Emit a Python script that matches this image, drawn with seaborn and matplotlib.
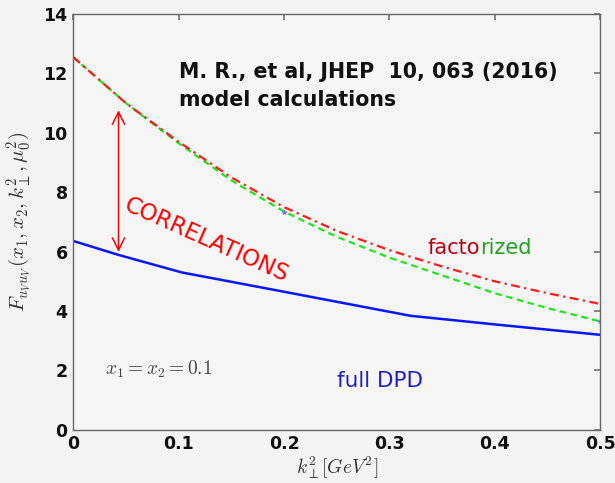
import matplotlib.pyplot as plt
import seaborn as sns
import pandas as pd

# Values
k2 = [0.0, 0.05, 0.1, 0.15, 0.2, 0.25, 0.3, 0.35, 0.4, 0.45, 0.5]
factorized = [12.55, 11.0, 9.7, 8.5, 7.5, 6.7, 6.05, 5.5, 5.0, 4.6, 4.24]
factorized_b = [12.55, 11.0, 9.65, 8.4, 7.35, 6.5, 5.8, 5.2, 4.6, 4.1, 3.65]
full_k2 = [0.0, 0.043, 0.103, 0.2, 0.32, 0.4, 0.5]
full_dpd = [6.36, 5.89, 5.3, 4.65, 3.84, 3.55, 3.2]
x_ticks = [0, 0.1, 0.2, 0.3, 0.4, 0.5]
y_ticks = [0, 2, 4, 6, 8, 10, 12, 14]

sns.set_theme(style="white")
plt.rcParams['font.family'] = ['DejaVu Sans']
plt.rcParams['mathtext.fontset'] = 'cm'

df_fac = pd.DataFrame({'k2': k2, 'red': factorized, 'green': factorized_b})
df_full = pd.DataFrame({'k2': full_k2, 'F': full_dpd})

fig = plt.figure(figsize=(6.15, 4.83), dpi=100)
fig.patch.set_facecolor('#f3f3f3')
ax = fig.add_axes([0.119, 0.110, 0.857, 0.861])
ax.set_facecolor('#f5f5f5')

sns.lineplot(data=df_full, x='k2', y='F', color='#0a14ff', lw=1.8, ax=ax)
sns.lineplot(data=df_fac, x='k2', y='green', color='#1ee61e', lw=1.6, ax=ax,
             linestyle=(0, (3, 2)))
sns.lineplot(data=df_fac, x='k2', y='red', color='#ff1a1a', lw=1.6, ax=ax,
             linestyle=(0, (4, 2, 1, 2)))
ax.plot([0.2, 0.5], [factorized_b[4], factorized_b[-1]], ls='none', marker='*',
        ms=3, color='#6a7cff')

ax.set_xlim(0, 0.5)
ax.set_ylim(0, 14)
ax.set_xticks(x_ticks)
ax.set_xticklabels(['0', '0.1', '0.2', '0.3', '0.4', '0.5'])
ax.set_yticks(y_ticks)
ax.tick_params(direction='in', length=4, top=True, right=True, color='#777777',
               labelsize=12.5, labelcolor='#111111', pad=4)
for lab in ax.get_xticklabels() + ax.get_yticklabels():
    lab.set_fontweight('bold')
for s in ax.spines.values():
    s.set_color('#666666')
    s.set_linewidth(1.0)

ax.set_xlabel(r'$k_{\perp}^{2}[GeV^{2}]$', fontsize=14, color='#333333', labelpad=1)
ax.set_ylabel(r'$F_{u_V u_V}(x_1,x_2,k_{\perp}^2,\mu_0^2)$', fontsize=15,
              color='#333333', labelpad=6)

# double arrow
ax.annotate('', xy=(0.043, 5.9), xytext=(0.043, 10.85),
            arrowprops=dict(arrowstyle='<->', color='red', lw=1.1,
                            mutation_scale=22))

ax.text(0.1, 12.05, 'M. R., et al, JHEP  10, 063 (2016)', fontsize=14.8,
        fontweight='bold', color='#111111', va='center')
ax.text(0.1, 11.1, 'model calculations', fontsize=14.8, fontweight='bold',
        color='#111111', va='center')
ax.text(0.126, 6.4, 'CORRELATIONS', fontsize=16.5, color='red', rotation=-24,
        ha='center', va='center')
t = ax.text(0.336, 6.12, 'facto', fontsize=15, color='#c00010', ha='left',
            va='center')
ax.annotate('rized', xy=(1, 0.5), xycoords=t, fontsize=15, color='#22a022',
            ha='left', va='center')
ax.text(0.25, 1.65, 'full DPD', fontsize=15.5, color='#2020c0', ha='left', va='center')
ax.text(0.03, 2.05, r'$x_1 = x_2 = 0.1$', fontsize=14, color='#444444',
        ha='left', va='center')

fig.savefig('out.png', dpi=100, facecolor=fig.get_facecolor())
